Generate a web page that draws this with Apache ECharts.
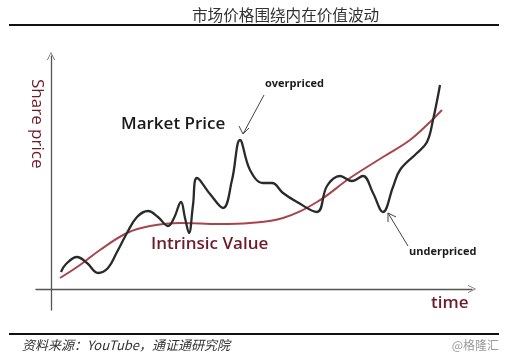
<!DOCTYPE html>
<html>
<head>
<meta charset="utf-8">
<script src="https://cdn.jsdelivr.net/npm/echarts@6/dist/echarts.min.js"></script>
<style>html,body{margin:0;padding:0;background:#fff}#c{width:506px;height:361px}</style>
</head>
<body>
<div id="c"></div>
<script>
// Market price path (time, price) in arbitrary units
const marketTime = [1.0,1.5,2.6,3.6,4.7,5.7,6.6,7.6,8.6,9.7,10.7,11.7,12.3,13.0,13.4,13.8,14.2,14.6,15.9,17.2,18.1,18.9,19.9,21.2,22.1,23.2,24.6,26.6,27.6,28.9,30.1,31.2,32.2,33.2,34.2,34.9,36.6,37.6,38.2,38.9];
const marketPrice = [1.7,2.5,3.2,2.6,1.6,2.1,3.7,5.6,7.2,7.8,7.2,6.3,7.1,8.7,7.1,5.6,8.4,11.1,9.5,8.1,10.9,14.9,11.9,10.6,10.6,9.6,8.7,7.7,10.3,11.3,10.8,11.3,9.6,7.7,10.2,11.9,13.6,14.7,16.9,20.4];
// Intrinsic value path
const valueTime = [0.9,2.9,4.9,7.6,9.9,12.9,16.9,19.9,23.2,26.6,29.9,33.2,35.9,37.9,39.1];
const intrinsicValue = [1.1,2.4,3.9,5.6,6.3,6.6,6.5,6.6,7.1,8.7,11.1,13.2,14.9,16.7,17.9];

const titleText = '市场价格围绕内在价值波动';
const sourceText = '资料来源：YouTube，通证通研究院';

const chart = echarts.init(document.getElementById('c'));
const maroon = '#6e1a2a';
const chevron = 'path://M5,0 L10,10 L9,10 L5,1.6 L1,10 L0,10 Z';
const axisColor = '#555';

chart.setOption({
  backgroundColor: '#fff',
  animation: false,
  grid: {left: 36, right: 34, top: 56, bottom: 51},
  xAxis: {
    type: 'value', min: -1.5, max: 42.1,
    axisLine: {show: true, onZero: true, lineStyle: {color: axisColor, width: 1.3}, symbol: ['none', chevron], symbolSize: [9, 8]},
    axisTick: {show: false}, axisLabel: {show: false}, splitLine: {show: false}
  },
  yAxis: {
    type: 'value', min: -2.1, max: 23.3,
    axisLine: {show: true, onZero: true, lineStyle: {color: axisColor, width: 1.3}, symbol: ['none', chevron], symbolSize: [9, 8]},
    axisTick: {show: false}, axisLabel: {show: false}, splitLine: {show: false}
  },
  series: [
    {
      type: 'line', name: 'Intrinsic Value', smooth: 0.4, showSymbol: false,
      data: valueTime.map((t, i) => [t, intrinsicValue[i]]),
      lineStyle: {color: '#a8454c', width: 2}
    },
    {
      type: 'line', name: 'Market Price', smooth: 0.4, showSymbol: false,
      data: marketTime.map((t, i) => [t, marketPrice[i]]),
      lineStyle: {color: '#2a2a2a', width: 2.3}
    }
  ],
  graphic: [
    {type: 'text', x: 192, y: 7, style: {text: titleText, font: '15.6px "Noto Sans CJK SC"', fill: '#333'}},
    {type: 'rect', shape: {x: 9, y: 24, width: 490, height: 2}, style: {fill: '#111'}},
    {type: 'rect', shape: {x: 9, y: 333, width: 490, height: 2}, style: {fill: '#111'}},
    {type: 'text', x: 22, y: 339, style: {text: sourceText, font: 'italic 13px "Noto Sans CJK SC"', fill: '#333'}},
    {type: 'text', x: 499, y: 339, style: {text: '@格隆汇', font: '12px "Noto Sans CJK SC"', fill: '#999', align: 'right'}},
    {type: 'text', x: 45, y: 79, rotation: -Math.PI / 2, style: {text: 'Share price', font: '17px "Open Sans"', fill: maroon}},
    {type: 'text', x: 121, y: 116, style: {text: 'Market Price', font: '600 17px "Open Sans"', fill: '#1a1a1a'}},
    {type: 'text', x: 265, y: 78, style: {text: 'overpriced', font: 'bold 11px "Open Sans"', fill: '#1a1a1a'}},
    {type: 'text', x: 151, y: 236, style: {text: 'Intrinsic Value', font: '600 17px "Open Sans"', fill: maroon}},
    {type: 'text', x: 409, y: 246, style: {text: 'underpriced', font: 'bold 11px "Open Sans"', fill: '#1a1a1a'}},
    {type: 'text', x: 431, y: 295, style: {text: 'time', font: '600 17px "Open Sans"', fill: maroon}},
    // annotation arrows
    {type: 'line', shape: {x1: 264, y1: 95, x2: 243, y2: 134}, style: {stroke: '#444', lineWidth: 1}},
    {type: 'polyline', shape: {points: [[239, 126], [243, 134], [249, 128]]}, style: {stroke: '#444', lineWidth: 1, fill: null}},
    {type: 'line', shape: {x1: 408, y1: 246, x2: 388, y2: 213}, style: {stroke: '#444', lineWidth: 1}},
    {type: 'polyline', shape: {points: [[388, 222], [388, 213], [396, 217]]}, style: {stroke: '#444', lineWidth: 1, fill: null}}
  ]
});
</script>
</body>
</html>
